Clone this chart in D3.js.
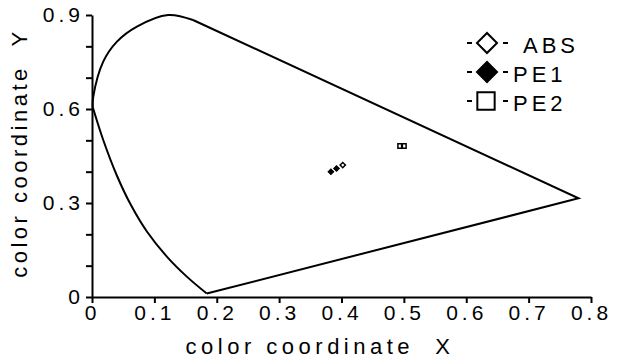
<!DOCTYPE html>
<html>
<head>
<meta charset="utf-8">
<script src="https://cdn.jsdelivr.net/npm/d3@7"></script>
<style>
  body { margin: 0; background: #fff; }
  text { font-family: "Liberation Sans", Arial, sans-serif; fill: #000; }
</style>
</head>
<body>
<div id="my_dataviz"></div>
<script>
// chromaticity outline
var lowerX = [0.184, 0.152, 0.120, 0.088, 0.062, 0.040, 0.018, 0.001]
var lowerY = [0.011, 0.065, 0.129, 0.209, 0.295, 0.387, 0.501, 0.607]
var upperX = [0.001, 0.002, 0.018, 0.040, 0.072, 0.122, 0.162]
var upperY = [0.607, 0.639, 0.751, 0.815, 0.863, 0.900, 0.884]
var edgeX = [0.162, 0.780, 0.184]
var edgeY = [0.884, 0.315, 0.011]

// samples
var seriesNames = ["ABS", "PE1", "PE2"]
var absX = [0.402], absY = [0.421]
var pe1X = [0.383, 0.392], pe1Y = [0.400, 0.410]
var pe2X = [0.494, 0.500], pe2Y = [0.482, 0.482]

// ticks
var xTicks = [0, 0.1, 0.2, 0.3, 0.4, 0.5, 0.6, 0.7, 0.8]
var xTickLabels = ["0", "0.1", "0.2", "0.3", "0.4", "0.5", "0.6", "0.7", "0.8"]
var yTicks = [0, 0.1, 0.2, 0.3, 0.4, 0.5, 0.6, 0.7, 0.8, 0.9]
var yTickLabels = ["0", "", "", "0.3", "", "", "0.6", "", "", "0.9"]

var width = 620, height = 361

var svg = d3.select("#my_dataviz")
  .append("svg")
    .attr("width", width)
    .attr("height", height)

var x = d3.scaleLinear().domain([0, 0.8]).range([92, 591])
var y = d3.scaleLinear().domain([0, 0.9]).range([297, 15])

// X axis
var gx = svg.append("g")
  .attr("transform", "translate(0," + y(0) + ")")
  .call(d3.axisBottom(x)
    .tickValues(xTicks)
    .tickSize(6)
    .tickSizeOuter(0)
    .tickPadding(2)
    .tickFormat(function(d, i) { return xTickLabels[i]; }))
gx.selectAll("text")
  .style("font-size", "21px")
  .style("letter-spacing", "4px")

// Y axis
var gy = svg.append("g")
  .attr("transform", "translate(" + x(0) + ",0)")
  .call(d3.axisLeft(y)
    .tickValues(yTicks)
    .tickSize(6)
    .tickSizeOuter(0)
    .tickPadding(2)
    .tickFormat(function(d, i) { return yTickLabels[i]; }))
gy.selectAll("text")
  .style("font-size", "21px")
  .style("letter-spacing", "4px")

svg.selectAll(".domain, .tick line")
  .attr("stroke", "#000")
  .attr("stroke-width", 2)
svg.selectAll(".tick text").attr("fill", "#000")

// axis titles
svg.append("text")
  .attr("x", 320)
  .attr("y", 354)
  .attr("text-anchor", "middle")
  .style("font-size", "22px")
  .style("letter-spacing", "4.5px")
  .style("white-space", "pre")
  .text("color coordinate  X")

svg.append("text")
  .attr("transform", "translate(27,153)rotate(-90)")
  .attr("text-anchor", "middle")
  .style("font-size", "22px")
  .style("letter-spacing", "3.5px")
  .style("white-space", "pre")
  .text("color coordinate  Y")

// outline
var curve = d3.line()
  .x(function(d) { return x(d[0]); })
  .y(function(d) { return y(d[1]); })
  .curve(d3.curveCatmullRom)
var straight = d3.line()
  .x(function(d) { return x(d[0]); })
  .y(function(d) { return y(d[1]); })

svg.append("path")
  .datum(d3.zip(lowerX, lowerY))
  .attr("d", curve)
  .attr("fill", "none").attr("stroke", "#000").attr("stroke-width", 2)
svg.append("path")
  .datum(d3.zip(upperX, upperY))
  .attr("d", curve)
  .attr("fill", "none").attr("stroke", "#000").attr("stroke-width", 2)
svg.append("path")
  .datum(d3.zip(edgeX, edgeY))
  .attr("d", straight)
  .attr("fill", "none").attr("stroke", "#000").attr("stroke-width", 2)

// points
var diamond = d3.symbol().type(d3.symbolSquare)
var square = d3.symbol().type(d3.symbolSquare)

svg.selectAll("abs")
  .data(d3.zip(absX, absY))
  .enter()
  .append("path")
    .attr("d", diamond.size(14)())
    .attr("transform", function(d) { return "translate(" + x(d[0]) + "," + y(d[1]) + ")rotate(45)"; })
    .attr("fill", "#fff").attr("stroke", "#000").attr("stroke-width", 1.5)
svg.selectAll("pe1")
  .data(d3.zip(pe1X, pe1Y))
  .enter()
  .append("path")
    .attr("d", diamond.size(16)())
    .attr("transform", function(d) { return "translate(" + x(d[0]) + "," + y(d[1]) + ")rotate(45)"; })
    .attr("fill", "#000").attr("stroke", "#000").attr("stroke-width", 1)
svg.selectAll("pe2")
  .data(d3.zip(pe2X, pe2Y))
  .enter()
  .append("path")
    .attr("d", square.size(20)())
    .attr("transform", function(d) { return "translate(" + x(d[0]) + "," + y(d[1]) + ")"; })
    .attr("fill", "none").attr("stroke", "#000").attr("stroke-width", 1.5)

// legend
var legend = svg.selectAll("legend")
  .data(seriesNames)
  .enter()
  .append("g")
    .attr("transform", function(d, i) { return "translate(487," + (43 + i * 29) + ")"; })

legend.append("line")
  .attr("x1", -20).attr("x2", -15)
  .attr("stroke", "#000").attr("stroke-width", 2)
legend.append("line")
  .attr("x1", 16).attr("x2", 21)
  .attr("stroke", "#000").attr("stroke-width", 2)
legend.append("path")
  .attr("d", function(d, i) { return i < 2 ? diamond.size(200)() : square.size(300)(); })
  .attr("transform", function(d, i) { return i < 2 ? "rotate(45)" : "translate(-1,0)"; })
  .attr("fill", function(d, i) { return i === 1 ? "#000" : "#fff"; })
  .attr("stroke", "#000").attr("stroke-width", 2)
legend.append("text")
  .attr("x", function(d, i) { return i === 0 ? 36 : 26; })
  .attr("y", 10)
  .style("font-size", "22px")
  .style("letter-spacing", "4px")
  .text(function(d) { return d; })
</script>
</body>
</html>
